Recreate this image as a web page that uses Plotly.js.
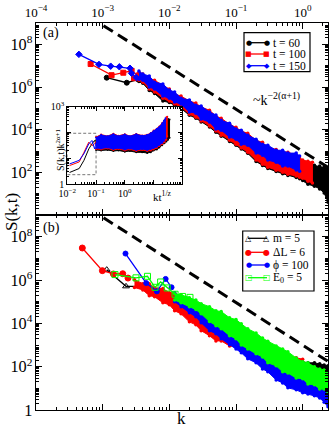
<!DOCTYPE html>
<html>
<head>
<meta charset="utf-8">
<script src="https://cdn.plot.ly/plotly-3.0.1.min.js"></script>
<style>
  html, body { margin: 0; padding: 0; background: #fff; }
  #chart { width: 332px; height: 430px; }
</style>
</head>
<body>
<div id="chart"></div>
<script>
// ---------- panel (a): S(k,t) for t = 60, 100, 150 ----------
const headK60 = [1.15e-3, 2.3e-3, 3.4e-3];
const headS60 = [2.75e6, 1.6e6, 2.3e6];
const headK100 = [6.6e-4, 1.36e-3, 2.04e-3, 2.72e-3, 2.95e-3, 3.4e-3];
const headS100 = [1.2e7, 3.6e6, 4.7e6, 5.8e6, 2.6e6, 3.5e6];
const headK150 = [4.4e-4, 8.8e-4, 1.32e-3, 1.78e-3, 2.57e-3, 2.72e-3, 3.2e-3];
const headS150 = [3.4e7, 1.15e7, 9.5e6, 8.9e6, 7.6e6, 4.4e6, 2.8e6];

// dense part of each curve: upper and lower edge of the scatter
const bandK150 = [0.0035, 0.004, 0.005, 0.006, 0.008, 0.01, 0.012, 0.015, 0.02, 0.025, 0.03, 0.04, 0.05, 0.06, 0.08, 0.1, 0.12, 0.15, 0.2, 0.25, 0.3, 0.4, 0.5, 0.6, 0.8, 0.9];
const hi150 = [5.6e6, 4.1e6, 3.3e6, 1.7e6, 1.4e6, 7.2e5, 5.9e5, 3.0e5, 2.5e5, 1.4e5, 1.3e5, 6.8e4, 4.9e4, 2.8e4, 2.0e4, 1.1e4, 9.5e3, 5.6e3, 3.6e3, 2.1e3, 1.9e3, 1.1e3, 1.1e3, 810, 810, 590];
const lo150 = [2.3e6, 2.1e6, 1.0e6, 8.1e5, 3.8e5, 3.0e5, 2.0e5, 1.6e5, 6.8e4, 6.0e4, 3.2e4, 2.3e4, 1.1e4, 9.5e3, 4.6e3, 3.6e3, 2.1e3, 1.9e3, 810, 650, 380, 300, 200, 200, 130, 115];
const bandK100 = bandK150.concat([1.0, 1.2, 1.4]);
const hi100 = [5.0e6, 4.1e6, 2.6e6, 2.1e6, 1.2e6, 8.1e5, 4.7e5, 3.8e5, 2.2e5, 1.8e5, 1.15e5, 8.3e4, 4.4e4, 3.5e4, 1.8e4, 1.3e4, 8.7e3, 6.9e3, 3.2e3, 2.6e3, 1.5e3, 1.2e3, 890, 890, 650, 470, 380, 340, 300];
const lo100 = [2.1e6, 1.7e6, 8.1e5, 5.9e5, 3.0e5, 2.2e5, 1.6e5, 1.15e5, 5.4e4, 3.9e4, 2.6e4, 1.5e4, 8.7e3, 5.6e3, 3.2e3, 2.1e3, 1.4e3, 890, 380, 245, 178, 129, 102, 83, 68, 60, 54, 39, 32];
const bandK60 = bandK150.concat([1.0, 1.2, 1.5, 1.8, 2.1, 2.4]);
const hi60 = [3.3e6, 3.0e6, 1.9e6, 1.2e6, 8.1e5, 5.2e5, 3.4e5, 2.2e5, 1.4e5, 1.05e5, 7.4e4, 4.9e4, 2.8e4, 2.0e4, 1.2e4, 7.8e3, 5.6e3, 4.1e3, 2.1e3, 1.5e3, 1.1e3, 810, 650, 590, 470, 380, 275, 245, 220, 200, 178, 158];
const lo60 = [1.8e6, 1.5e6, 7.0e5, 5.0e5, 2.2e5, 1.9e5, 1.4e5, 1.0e5, 4.8e4, 3.5e4, 2.3e4, 1.35e4, 7.6e3, 5.0e3, 2.8e3, 1.9e3, 1.25e3, 790, 330, 215, 155, 112, 88, 72, 58, 51, 42, 28, 23, 17, 11, 4.1];

// guide line ~k^-2(alpha+1), same in both panels
const guideK = [1.03e-3, 2.4];
const guideS = [7.5e8, 175];

// ---------- inset: scaled S(k,t) k^(2a+1) vs k t^(1/z) ----------
const inHeadX = [0.012, 0.026, 0.038, 0.056, 0.072, 0.089, 0.1];
const inHead60 = [2.8, 4.0, 8.3, 23, 36, 49, 35];
const inHead100 = [5.2, 7.2, 17, 42, 31, 36, 45];
const inHead150 = [6.0, 8.3, 15, 36, 49, 23, 40];
const inK150 = [0.1, 0.15, 0.25, 0.4, 0.6, 1, 1.5, 2.5, 4, 6, 8, 10, 13, 16, 20, 23, 26];
const inHi150 = [63, 79, 71, 85, 72, 83, 71, 85, 74, 79, 93, 112, 135, 166, 224, 282, 355];
const inLo150 = [25, 24, 26, 23, 25, 22, 24, 21, 23, 21, 23, 25, 28, 33, 40, 48, 60];
const inK100 = [0.1, 0.15, 0.25, 0.4, 0.6, 1, 1.5, 2.5, 4, 6, 8, 10, 13, 16, 20, 24, 28, 30];
const inHi100 = [66, 83, 72, 90, 74, 86, 72, 88, 76, 81, 96, 118, 140, 172, 235, 300, 390, 410];
const inLo100 = [23, 22, 24, 21, 23, 20, 22, 19, 21, 19, 20, 22, 25, 30, 35, 42, 52, 71];
const inK60 = [0.1, 0.15, 0.25, 0.4, 0.6, 1, 1.5, 2.5, 4, 6, 8, 10, 13, 16, 20, 24, 28, 32, 36];
const inHi60 = [50, 56, 52, 60, 55, 58, 52, 60, 55, 58, 63, 79, 100, 126, 166, 224, 282, 331, 316];
const inLo60 = [21, 20, 21, 19, 20, 18, 19, 17, 17, 16, 17, 20, 22, 26, 32, 38, 45, 52, 63];
const inBoxX = [0.01, 0.1, 0.1, 0.01, 0.01];
const inBoxY = [2.3, 2.3, 93, 93, 2.3];

// ---------- panel (b): m = 5, dL = 6, phi = 100, E0 = 5 ----------
const headKm = [1.15e-3, 2.24e-3, 4.3e-3, 6.6e-3];
const headSm = [3.0e6, 5.1e5, 5.1e5, 2.8e5];
const bandKm = [0.007, 0.008, 0.01, 0.012, 0.015, 0.02, 0.025, 0.03, 0.04, 0.05, 0.06, 0.08, 0.1, 0.12, 0.15, 0.2, 0.25, 0.3, 0.4, 0.5, 0.6, 0.8, 1.0, 1.2, 1.5, 1.8, 2.1, 2.4];
const hiM = [3.5e5, 3.2e5, 2.3e5, 1.9e5, 1.38e5, 1.0e5, 7.2e4, 5.2e4, 3.5e4, 2.2e4, 1.8e4, 1.07e4, 6.9e3, 5.0e3, 3.6e3, 2.1e3, 1.55e3, 1.15e3, 740, 490, 316, 204, 166, 151, 151, 135, 120, 110];
const loM = [1.5e5, 1.23e5, 8.1e4, 5.9e4, 3.8e4, 2.2e4, 1.5e4, 9.5e3, 5.0e3, 3.3e3, 2.4e3, 1.4e3, 910, 600, 390, 257, 166, 120, 71, 51, 37, 27.5, 20, 15.8, 12.9, 10.5, 8.5, 6.8];

const headKdL = [4.95e-4, 9.9e-4, 1.45e-3, 2.0e-3, 2.4e-3];
const headSdL = [3.0e7, 2.7e6, 1.9e6, 1.95e6, 1.23e6];
const bandKdL = [0.003, 0.004, 0.005, 0.006, 0.008, 0.01, 0.012, 0.015, 0.02, 0.025, 0.03, 0.04, 0.05, 0.06, 0.08, 0.1, 0.12, 0.15, 0.2, 0.25, 0.3, 0.4, 0.5, 0.6, 0.8, 1.0];
const hiDL = [1.04e6, 6.8e5, 6.8e5, 4.4e5, 4.0e5, 2.6e5, 2.6e5, 1.5e5, 1.23e5, 7.2e4, 6.5e4, 3.1e4, 2.5e4, 1.5e4, 1.07e4, 5.6e3, 5.0e3, 2.7e3, 1.95e3, 1.02e3, 1.02e3, 540, 490, 280, 260, 220];
const loDL = [4.5e5, 3.5e5, 1.9e5, 1.7e5, 8.9e4, 7.2e4, 3.8e4, 2.75e4, 1.17e4, 8.5e3, 4.6e3, 2.7e3, 1.55e3, 1.55e3, 910, 830, 540, 490, 257, 230, 135, 98, 58, 51, 30, 27.5];

const headKphi = [2.2e-3, 4.5e-3, 6.5e-3, 8.8e-3, 1.08e-2];
const headSphi = [1.66e7, 7.2e5, 3.0e5, 1.12e6, 4.6e5];
const bandKb = [0.012, 0.015, 0.02, 0.025, 0.03, 0.04, 0.05, 0.06, 0.08, 0.1, 0.12, 0.15, 0.2, 0.25, 0.3, 0.4, 0.5, 0.6, 0.8, 1.0, 1.2, 1.5, 1.8, 2.1, 2.4];
const hiPhi = [2.6e5, 1.7e5, 1.38e5, 8.1e4, 7.2e4, 3.8e4, 3.1e4, 1.8e4, 1.3e4, 7.8e3, 6.9e3, 3.6e3, 2.7e3, 1.55e3, 1.26e3, 660, 540, 316, 230, 135, 120, 71, 65, 42, 34];
const loPhi = [1.0e5, 5.9e4, 3.1e4, 2.0e4, 1.07e4, 4.6e3, 3.3e3, 1.95e3, 1.02e3, 660, 440, 230, 151, 79, 58, 24.5, 17.8, 10.5, 8.5, 6.2, 5.5, 4.5, 3.6, 2.3, 1.4];

const headKE = [1.53e-3, 3.16e-3, 4.7e-3, 6.1e-3, 7.4e-3, 9.3e-3, 1.22e-2, 1.58e-2, 2.04e-2];
const headSE = [1.78e6, 1.26e6, 1.48e6, 4.6e5, 8.1e5, 4.3e5, 2.2e5, 1.74e5, 1.58e5];
const hiE = [2.3e5, 2.1e5, 1.5e5, 1.2e5, 8.1e4, 5.9e4, 3.8e4, 3.5e4, 1.8e4, 1.5e4, 9.5e3, 5.6e3, 3.6e3, 2.1e3, 1.5e3, 910, 660, 490, 250, 170, 151, 98, 79, 71, 58];
const loE = [1.2e5, 8.9e4, 5.9e4, 4.3e4, 2.75e4, 1.2e4, 7.8e3, 5.6e3, 2.7e3, 1.95e3, 1.0e3, 660, 390, 280, 151, 110, 58, 51, 30, 27.5, 15.8, 14.5, 9.3, 9.3, 6.2];

const BLACK = '#000000', RED = '#ff0000', BLUE = '#0000ff', GREEN = '#00ff00';
const SERIF = 'Liberation Serif';

function band(k, hi, lo, color, xa, ya, dot) {
  return {
    x: k.concat(k.slice().reverse()),
    y: hi.concat(lo.slice().reverse()),
    xaxis: xa, yaxis: ya,
    mode: 'lines+markers', fill: 'toself', fillcolor: color,
    line: { color: color, width: 1 },
    marker: { color: color, size: dot === undefined ? 3.5 : dot },
    hoverinfo: 'skip', showlegend: false
  };
}

function head(k, s, color, symbol, size, xa, ya, lw) {
  return {
    x: k, y: s, xaxis: xa, yaxis: ya,
    mode: size ? 'lines+markers' : 'lines',
    line: { color: color, width: lw || 1.3 },
    marker: { color: color, symbol: symbol, size: size || 1, line: { color: color, width: 1 } },
    hoverinfo: 'skip', showlegend: false
  };
}

const guideStyle = { color: BLACK, width: 3, dash: '11px,6px' };

const traces = [
  // panel (b)
  band(bandKm, hiM, loM, BLACK, 'x', 'y'),
  head(headKm, headSm, BLACK, 'triangle-up-open', 6, 'x', 'y'),
  band(bandKdL, hiDL, loDL, RED, 'x', 'y'),
  head(headKdL, headSdL, RED, 'circle', 6, 'x', 'y'),
  band(bandKb, hiPhi, loPhi, BLUE, 'x', 'y'),
  head(headKphi, headSphi, BLUE, 'circle', 5, 'x', 'y'),
  band(bandKb, hiE, loE, GREEN, 'x', 'y'),
  head(headKE, headSE, GREEN, 'square-open', 6, 'x', 'y'),
  { x: guideK, y: guideS, xaxis: 'x', yaxis: 'y', mode: 'lines', line: guideStyle, hoverinfo: 'skip', showlegend: false },
  // panel (a)
  band(bandK60, hi60, lo60, BLACK, 'x2', 'y2'),
  head(headK60, headS60, BLACK, 'circle', 5, 'x2', 'y2'),
  band(bandK100, hi100, lo100, RED, 'x2', 'y2'),
  head(headK100, headS100, RED, 'square', 5, 'x2', 'y2'),
  band(bandK150, hi150, lo150, BLUE, 'x2', 'y2'),
  head(headK150, headS150, BLUE, 'diamond', 5, 'x2', 'y2'),
  { x: guideK, y: guideS, xaxis: 'x2', yaxis: 'y2', mode: 'lines', line: guideStyle, hoverinfo: 'skip', showlegend: false },
  // inset
  { x: inBoxX, y: inBoxY, xaxis: 'x3', yaxis: 'y3', mode: 'lines', line: { color: '#777', width: 1, dash: '3px,2px' }, hoverinfo: 'skip', showlegend: false },
  band(inK60, inHi60, inLo60, BLACK, 'x3', 'y3', 2),
  head(inHeadX, inHead60, BLACK, 'circle', 0, 'x3', 'y3', 1),
  band(inK100, inHi100, inLo100, RED, 'x3', 'y3', 2),
  head(inHeadX, inHead100, RED, 'circle', 0, 'x3', 'y3', 1),
  band(inK150, inHi150, inLo150, BLUE, 'x3', 'y3', 2),
  head(inHeadX, inHead150, BLUE, 'circle', 0, 'x3', 'y3', 1)
];

// plot area in pixels: x 36..328, y 23..410
const PX = px => (px - 36) / 292;
const PY = py => (410 - py) / 387;

const logAxis = {
  type: 'log', showline: true, linecolor: BLACK, linewidth: 1, mirror: 'allticks',
  ticks: 'inside', ticklen: 6, tickwidth: 1, tickcolor: BLACK,
  showgrid: false, zeroline: false, exponentformat: 'power',
  tickfont: { family: SERIF, size: 13, color: BLACK },
  minor: { ticks: 'inside', ticklen: 3, tickwidth: 1, tickcolor: BLACK, dtick: 'D1', showgrid: false }
};

const insetAxis = Object.assign({}, logAxis, {
  ticklen: 4, tickfont: { family: SERIF, size: 10, color: BLACK },
  minor: { ticks: 'inside', ticklen: 2, tickwidth: 1, tickcolor: BLACK, dtick: 'D1', showgrid: false }
});

const splitY = PY(215);
const kTicks = [1e-4, 1e-3, 1e-2, 1e-1, 1];
const kTickText = ['10<sup>\u22124</sup>', '10<sup>\u22123</sup>', '10<sup>\u22122</sup>', '10<sup>\u22121</sup>', '10<sup>0</sup>'];

const layout = {
  width: 332, height: 430,
  margin: { l: 36, r: 4, t: 23, b: 20 },
  paper_bgcolor: '#ffffff', plot_bgcolor: '#fffffe',
  showlegend: false,
  font: { family: SERIF, color: BLACK },
  xaxis: Object.assign({}, logAxis, { domain: [0, 1], anchor: 'y', range: [-4, 0.38], tickmode: 'array', tickvals: kTicks, showticklabels: false }),
  yaxis: Object.assign({}, logAxis, { domain: [0, splitY], anchor: 'x', range: [0, 9], tick0: 0, dtick: 2 }),
  xaxis2: Object.assign({}, logAxis, { domain: [0, 1], anchor: 'y2', side: 'top', range: [-4, 0.38], tickmode: 'array', tickvals: kTicks, ticktext: kTickText }),
  yaxis2: Object.assign({}, logAxis, { domain: [splitY, 1], anchor: 'x2', range: [0.01, 9], tick0: 0, dtick: 2 }),
  xaxis3: Object.assign({}, insetAxis, {
    domain: [PX(67.3), PX(182.3)], anchor: 'y3', range: [-2, 2],
    tickmode: 'array', tickvals: [0.01, 0.1, 1, 10],
    ticktext: ['10<sup>\u22122</sup>', '10<sup>\u22121</sup>', '10<sup>0</sup>', ' ']
  }),
  yaxis3: Object.assign({}, insetAxis, {
    domain: [PY(184), PY(106.7)], anchor: 'x3', range: [0, 3],
    tickmode: 'array', tickvals: [1, 10, 100, 1000], ticktext: ['1', ' ', ' ', '10<sup>3</sup>']
  }),
  shapes: [],
  annotations: [
    { text: '(a)', x: PX(51), y: PY(33), font: { size: 14 } },
    { text: '(b)', x: PX(51), y: PY(228), font: { size: 14 } },
    { text: '~k<sup>\u22122(\u03b1+1)</sup>', x: PX(276), y: PY(99), font: { size: 14 } },
    { text: 'S(k,t)', x: PX(11), y: PY(212), textangle: -90, font: { size: 17 } },
    { text: 'k', x: PX(181), y: PY(418), font: { size: 17 } },
    { text: 'S(k,t)k<sup>2\u03b1+1</sup>', x: PX(60), y: PY(150), textangle: -90, font: { size: 10 } },
    { text: 'kt<sup>1/z</sup>', x: PX(162), y: PY(196), font: { size: 11 } }
  ]
};
layout.annotations.forEach(a => Object.assign(a, { xref: 'paper', yref: 'paper', showarrow: false, xanchor: 'center', yanchor: 'middle' }));

// hand-drawn legends (boxes sized like the original)
function addLegend(box, rows, items) {
  layout.shapes.push({ type: 'rect', xref: 'paper', yref: 'paper', x0: PX(box[0]), x1: PX(box[1]), y0: PY(box[2]), y1: PY(box[3]), line: { color: BLACK, width: 1.2 }, fillcolor: '#ffffff', layer: 'above' });
  items.forEach((it, i) => {
    const y = PY(rows[i]);
    layout.shapes.push({ type: 'line', xref: 'paper', yref: 'paper', x0: PX(248), x1: PX(267), y0: y, y1: y, line: { color: it.color, width: 1.3 }, layer: 'above' });
    [248.5, 266.5].forEach(px => layout.annotations.push({ text: it.glyph, x: PX(px), y: y, xref: 'paper', yref: 'paper', showarrow: false, borderpad: 0, xanchor: 'center', yanchor: 'middle', font: { family: 'DejaVu Sans', size: it.size, color: it.color } }));
    layout.annotations.push({ text: it.label, x: PX(272), y: y, xref: 'paper', yref: 'paper', showarrow: false, borderpad: 0, xanchor: 'left', yanchor: 'middle', font: { family: SERIF, size: 11.5, color: BLACK } });
  });
}

addLegend([244, 310, 32.7, 71.7], [42.7, 54, 65.7], [
  { label: 't = 60', color: BLACK, glyph: '\u25cf', size: 7 },
  { label: 't = 100', color: RED, glyph: '\u25a0', size: 7 },
  { label: 't = 150', color: BLUE, glyph: '\u25c6', size: 7 }
]);
addLegend([242.7, 314, 231, 291], [238.3, 252.3, 265, 277.7], [
  { label: 'm = 5', color: BLACK, glyph: '\u25b3', size: 8 },
  { label: '\u0394L = 6', color: RED, glyph: '\u25cf', size: 8 },
  { label: '\u03d5 = 100', color: BLUE, glyph: '\u25cf', size: 7 },
  { label: 'E<sub>0</sub> = 5', color: GREEN, glyph: '\u25a1', size: 8 }
]);

Plotly.newPlot('chart', traces, layout, { staticPlot: true, displayModeBar: false });
</script>
</body>
</html>
